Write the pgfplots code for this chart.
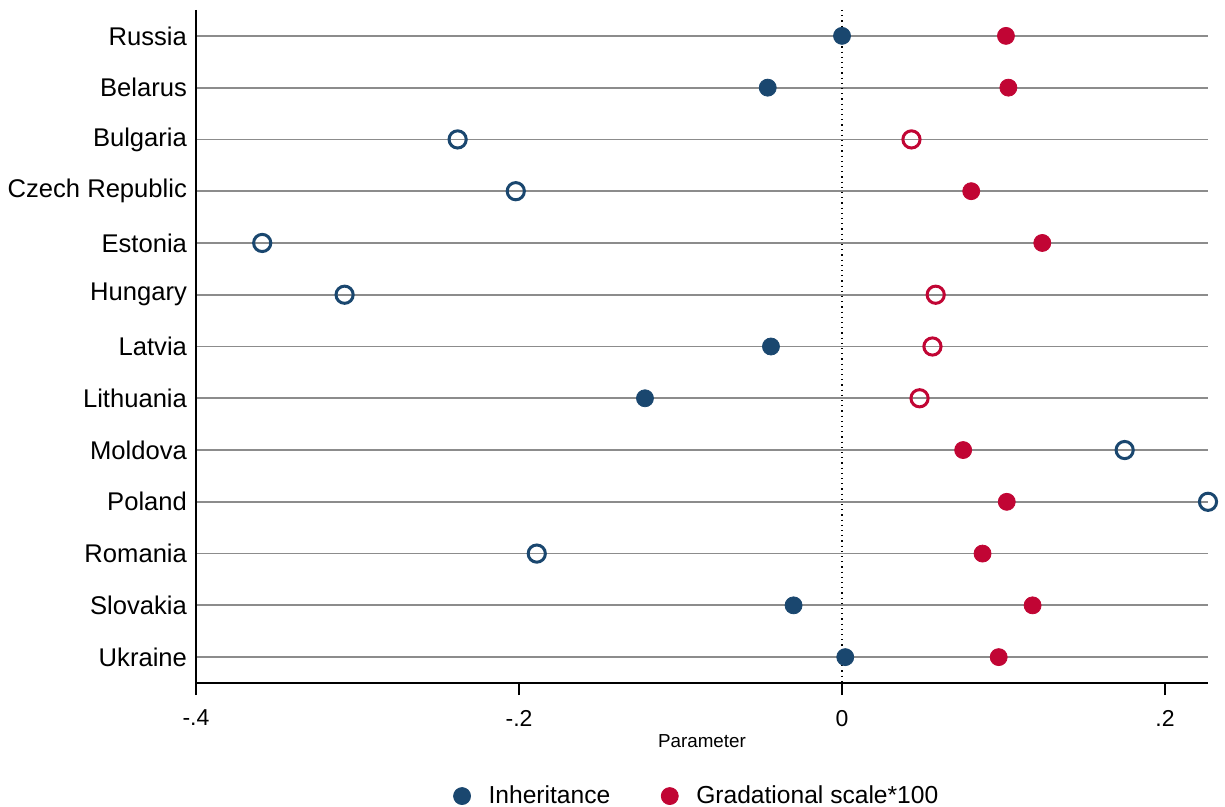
\documentclass[border=0pt]{standalone}
\usepackage{pgfplots}
\pgfplotsset{compat=1.18}
\usepackage{fontspec}
\setmainfont{Liberation Sans}
\definecolor{sblue}{HTML}{1A476F}
\definecolor{sred}{HTML}{C10534}
\begin{document}
\begin{tikzpicture}
\begin{axis}[
  scale only axis,
  width=506pt, height=336.5pt,
  xmin=-0.4, xmax=0.2266,
  ymin=0.5, ymax=13.5,
  y dir=reverse,
  axis x line*=bottom, axis y line*=left,
  axis line style={black, line width=0.9pt, -},
  xtick={-0.4,-0.2,0,0.2},
  xticklabels={-.4,-.2,0,.2},
  ytick={1,...,13},
  yticklabels={Russia,Belarus,Bulgaria,Czech Republic,Estonia,Hungary,Latvia,Lithuania,Moldova,Poland,Romania,Slovakia,Ukraine},
  ymajorgrids,
  grid style={color=black!45, line width=0.9pt},
  major tick length=6pt,
  tick style={black, line width=0.8pt},
  xtick align=outside,
  y tick style={draw=none},
  yticklabel style={font=\fontsize{12.8}{15}\selectfont, xshift=-1pt},
  xticklabel style={font=\fontsize{11.5}{14}\selectfont, yshift=-4pt},
  xlabel={Parameter},
  xlabel style={font=\fontsize{9.4}{11}\selectfont, yshift=3pt},
  legend style={draw=none, at={(0.496,-0.19)}, anchor=south, font=\fontsize{12.3}{14}\selectfont, inner sep=0pt,
    /tikz/every odd column/.append style={column sep=7pt},
    /tikz/every even column/.append style={column sep=23.5pt}},
  legend image code/.code={\draw[mark repeat=2,mark phase=2] plot coordinates {(0cm,0cm) (0.2cm,0cm) (0.4cm,0cm)};},
  legend columns=2,
  legend cell align=left,
  clip=false,
]
\addplot[black, dotted, line width=0.6pt, forget plot] coordinates {(0,0.5) (0,13.5)};
% Inheritance filled
\addplot[only marks, mark=*, mark size=4.25pt, color=sblue, mark options={fill=sblue, draw=sblue}] coordinates {
(0.000,1) (-0.046,2) (-0.044,7) (-0.122,8) (-0.030,12) (0.002,13)};
% Gradational filled
\addplot[only marks, mark=*, mark size=4.25pt, color=sred, mark options={fill=sred, draw=sred}] coordinates {
(0.1015,1) (0.103,2) (0.080,4) (0.124,5) (0.075,9) (0.102,10) (0.087,11) (0.118,12) (0.097,13)};
% Inheritance hollow
\addplot[only marks, mark=o, mark size=4.3pt, color=sblue, line width=1.5pt, forget plot] coordinates {
(-0.238,3) (-0.202,4) (-0.359,5) (-0.308,6) (0.175,9) (0.2266,10) (-0.189,11)};
% Gradational hollow
\addplot[only marks, mark=o, mark size=4.3pt, color=sred, line width=1.5pt, forget plot] coordinates {
(0.043,3) (0.058,6) (0.056,7) (0.048,8)};
\legend{Inheritance, Gradational scale*100}
\end{axis}
\pgfresetboundingbox
\path (current axis.south west) ++(-98pt,-62pt) rectangle ++(612.5pt,403.5pt);
\end{tikzpicture}
\end{document}
